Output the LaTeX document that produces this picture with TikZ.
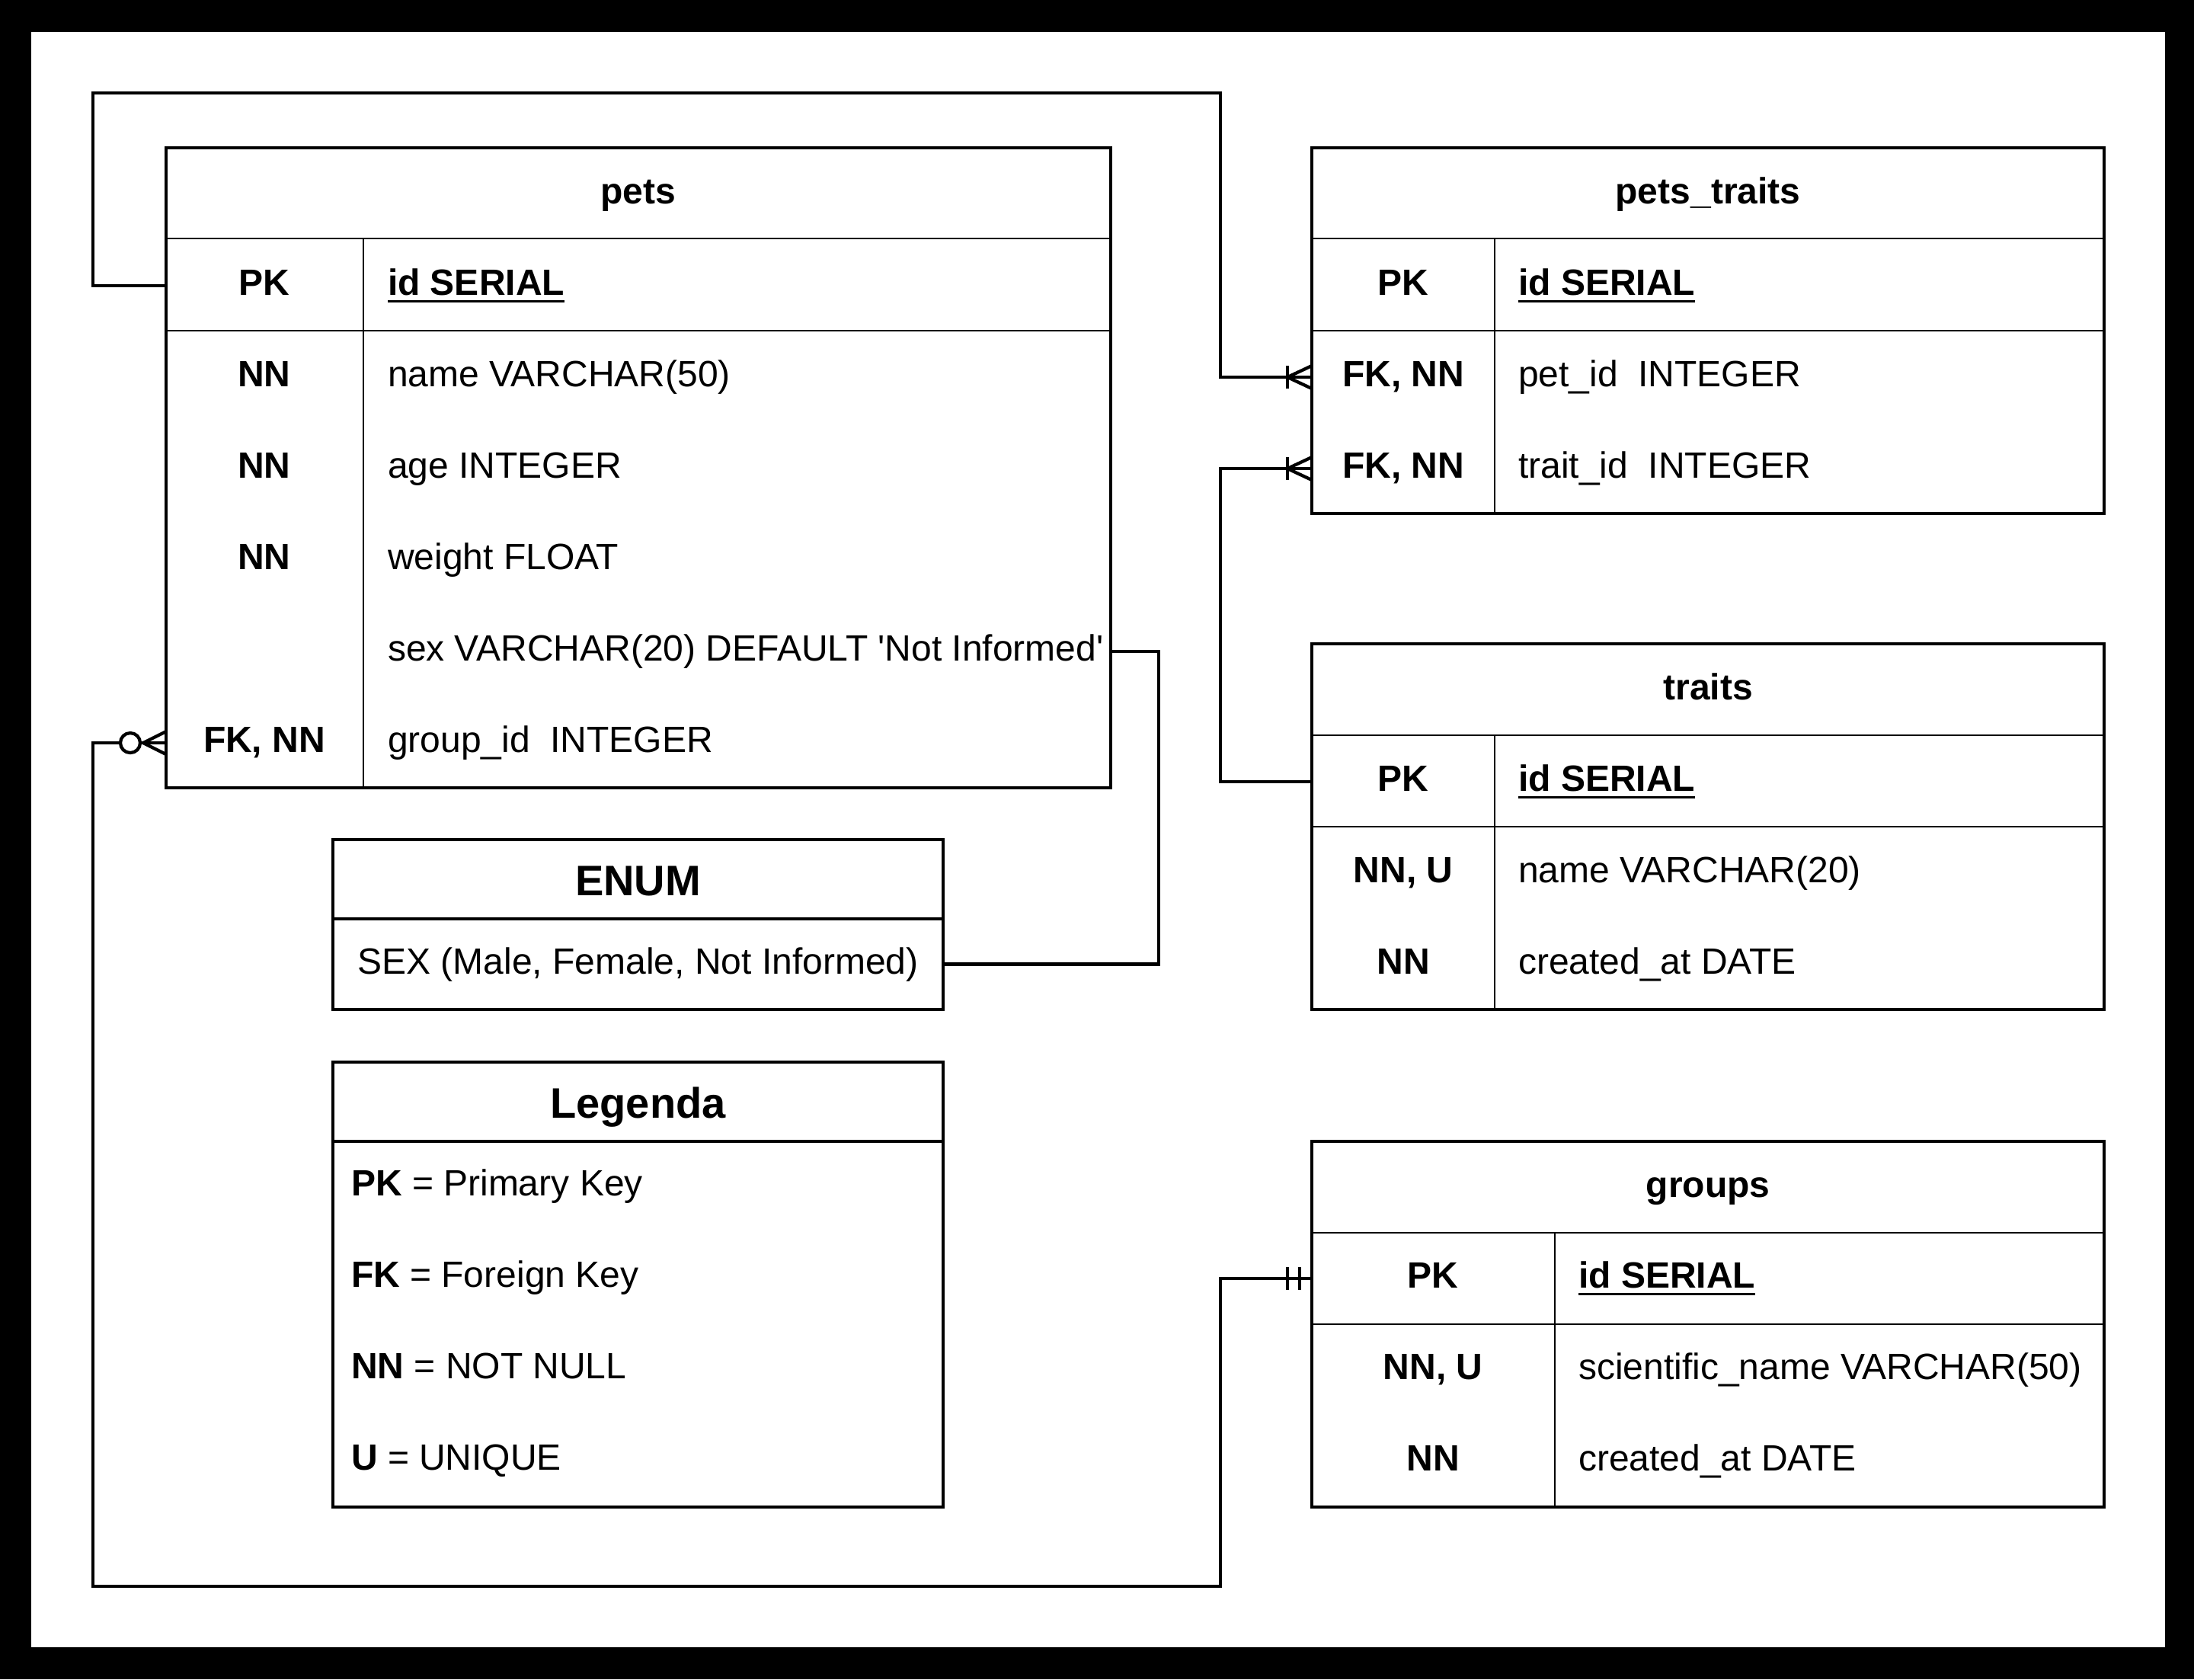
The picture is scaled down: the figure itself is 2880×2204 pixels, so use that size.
\documentclass[tikz,border=0pt]{standalone}
\usepackage{fontspec}
\setmainfont{Liberation Sans}[Ligatures=TeXOff]
\usepackage{tikz}

\tikzset{
  every node/.style={inner sep=0pt, outer sep=0pt, font=\fontsize{9pt}{11pt}\selectfont,
    text height=6.5pt, text depth=1.8pt},
  tbl/.style={draw, line width=0.8pt},
  grid/.style={line width=0.45pt},
  link/.style={line width=0.8pt},
  head/.style={font=\fontsize{9pt}{11pt}\selectfont\bfseries},
  key/.style={font=\fontsize{9pt}{11pt}\selectfont\bfseries},
  field/.style={anchor=west},
  boxtitle/.style={font=\fontsize{10.5pt}{12pt}\selectfont\bfseries, text height=7.6pt, text depth=2.1pt},
  onemany/.pic={\draw[link] (0,-15) -- (-32,0) -- (0,15); \draw[link] (-32,-15) -- (-32,15);},
  zeromany/.pic={\draw[link] (0,-15) -- (-30,0) -- (0,15); \draw[link,fill=white] (-47,0) circle[radius=2.44pt];},
  oneone/.pic={\draw[link] (-32,-15) -- (-32,15); \draw[link] (-16,-15) -- (-16,15);}
}

\begin{document}
\begin{tikzpicture}[x=0.1875pt,y=-0.1875pt]
\useasboundingbox (0,0) rectangle (2880,2204);
\fill[black] (0,0) rectangle (2880,2204);
\fill[white] (41,42) rectangle (2842,2162);

% pets
\node[tbl, minimum width={1240*0.1875pt}, minimum height={840*0.1875pt}] (pets) at (838,614) {};
\draw[grid] (218,313) -- (1458,313);
\draw[grid] (218,434) -- (1458,434);
\draw[grid] (477,313) -- (477,1034);
\node[head] (pets-title) at (838,255) {pets};
\node[key] (pets-k1) at (347,375) {PK};
\node[key] (pets-k2) at (347,495) {NN};
\node[key] (pets-k3) at (347,615) {NN};
\node[key] (pets-k4) at (347,735) {NN};
\node[key] (pets-k6) at (347,975) {FK, NN};
\node[field] (pets-id) at (509,375) {\underline{\textbf{id SERIAL}}};
\node[field] (pets-name) at (509,495) {name VARCHAR(50)};
\node[field] (pets-age) at (509,615) {age INTEGER};
\node[field] (pets-weight) at (509,735) {weight FLOAT};
\node[field] (pets-sex) at (509,855) {sex VARCHAR(20) DEFAULT 'Not Informed'};
\node[field] (pets-group) at (509,975) {group\_id\ \ INTEGER};

% pets_traits
\node[tbl, minimum width={1040*0.1875pt}, minimum height={480*0.1875pt}] (pt) at (2242,434) {};
\draw[grid] (1722,313) -- (2762,313);
\draw[grid] (1722,434) -- (2762,434);
\draw[grid] (1962,313) -- (1962,674);
\node[head] (pt-title) at (2242,255) {pets\_traits};
\node[key] (pt-k1) at (1842,375) {PK};
\node[key] (pt-k2) at (1842,495) {FK, NN};
\node[key] (pt-k3) at (1842,615) {FK, NN};
\node[field] (pt-id) at (1993,375) {\underline{\textbf{id SERIAL}}};
\node[field] (pt-pet) at (1993,495) {pet\_id\ \ INTEGER};
\node[field] (pt-trait) at (1993,615) {trait\_id\ \ INTEGER};

% traits
\node[tbl, minimum width={1040*0.1875pt}, minimum height={480*0.1875pt}] (tr) at (2242,1085) {};
\draw[grid] (1722,965) -- (2762,965);
\draw[grid] (1722,1085) -- (2762,1085);
\draw[grid] (1962,965) -- (1962,1325);
\node[head] (tr-title) at (2242,906) {traits};
\node[key] (tr-k1) at (1842,1026) {PK};
\node[key] (tr-k2) at (1842,1146) {NN, U};
\node[key] (tr-k3) at (1842,1266) {NN};
\node[field] (tr-id) at (1993,1026) {\underline{\textbf{id SERIAL}}};
\node[field] (tr-name) at (1993,1146) {name VARCHAR(20)};
\node[field] (tr-created) at (1993,1266) {created\_at DATE};

% groups
\node[tbl, minimum width={1040*0.1875pt}, minimum height={480*0.1875pt}] (gr) at (2242,1738) {};
\draw[grid] (1722,1618) -- (2762,1618);
\draw[grid] (1722,1738) -- (2762,1738);
\draw[grid] (2041,1618) -- (2041,1978);
\node[head] (gr-title) at (2242,1559) {groups};
\node[key] (gr-k1) at (1881,1678) {PK};
\node[key] (gr-k2) at (1881,1798) {NN, U};
\node[key] (gr-k3) at (1881,1918) {NN};
\node[field] (gr-id) at (2072,1678) {\underline{\textbf{id SERIAL}}};
\node[field] (gr-name) at (2072,1798) {scientific\_name VARCHAR(50)};
\node[field] (gr-created) at (2072,1918) {created\_at DATE};

% enum
\node[tbl, minimum width={801*0.1875pt}, minimum height={223*0.1875pt}] (enum) at (837.5,1213.5) {};
\draw[link] (437,1206) -- (1238,1206);
\node[boxtitle] (enum-title) at (837.5,1161) {ENUM};
\node (enum-sex) at (837.5,1265.5) {SEX (Male, Female, Not Informed)};

% legenda
\node[tbl, minimum width={801*0.1875pt}, minimum height={584*0.1875pt}] (leg) at (837.5,1686) {};
\draw[link] (437,1498) -- (1238,1498);
\node[boxtitle] (leg-title) at (837.5,1453) {Legenda};
\node[field] (leg-pk) at (461,1557) {\textbf{PK} = Primary Key};
\node[field] (leg-fk) at (461,1677) {\textbf{FK} = Foreign Key};
\node[field] (leg-nn) at (461,1797) {\textbf{NN} = NOT NULL};
\node[field] (leg-u) at (461,1917) {\textbf{U} = UNIQUE};

% relations
\draw[link] (pets.west |- pets-id) -- ++(-96,0) |- (1602,122) |- (pt.west |- pt-pet);
\pic at (pt.west |- pt-pet) {onemany};
\draw[link] (tr.west |- tr-id) -- ++(-120,0) |- (pt.west |- pt-trait);
\pic at (pt.west |- pt-trait) {onemany};
\draw[link] (pets.east |- pets-sex) -- ++(63,0) |- (enum.east |- enum-sex);
\draw[link] (pets.west |- pets-group) -- ++(-96,0) |- (1602,2082) |- (gr.west |- gr-id);
\pic at (gr.west |- gr-id) {oneone};
\pic at (pets.west |- pets-group) {zeromany};
\end{tikzpicture}
\end{document}
